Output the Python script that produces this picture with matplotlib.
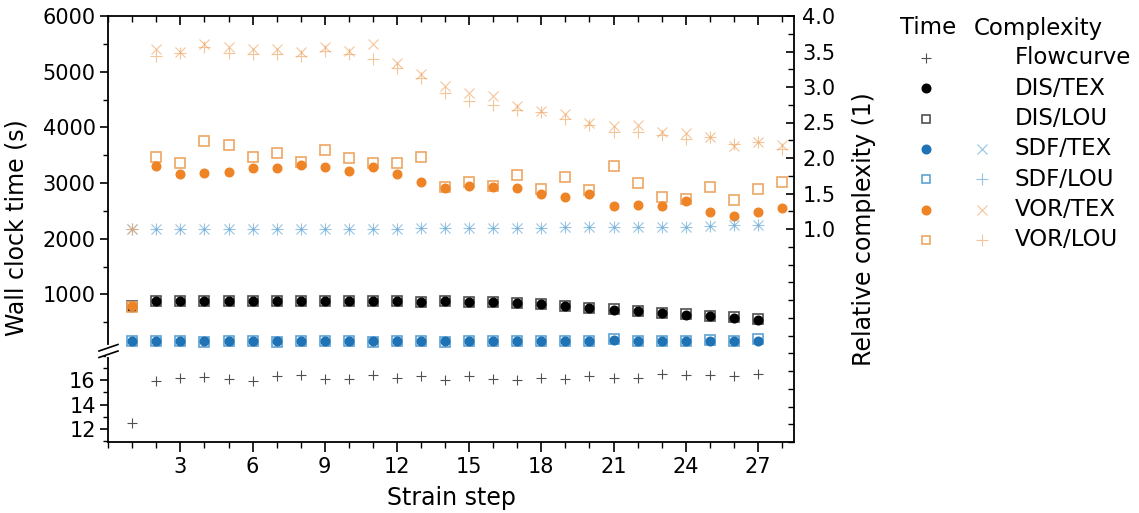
import matplotlib
matplotlib.use("Agg")
import matplotlib.pyplot as plt
from matplotlib.lines import Line2D
from matplotlib.ticker import MultipleLocator, FixedLocator

plt.rcParams['font.family'] = ['DejaVu Sans']

# ---- data ----
steps = list(range(1, 29))        # VOR series go to step 28
steps27 = list(range(1, 28))      # the others stop at 27

flowcurve = [12.5, 15.9, 16.2, 16.25, 16.1, 15.9, 16.3, 16.4, 16.1, 16.05, 16.45, 16.15, 16.3, 16.0,
             16.3, 16.1, 16.0, 16.2, 16.1, 16.35, 16.15, 16.2, 16.5, 16.4, 16.45, 16.3, 16.5]

dis_tex = [780, 880, 880, 880, 880, 885, 880, 880, 882, 885, 880, 880, 862, 874,
           862, 862, 844, 826, 790, 748, 725, 694, 664, 635, 610, 581, 545]
dis_lou = [785, 885, 885, 882, 885, 888, 884, 884, 886, 888, 884, 882, 866, 878,
           866, 866, 848, 830, 795, 752, 730, 698, 668, 640, 614, 586, 550]

sdf_tex = [160, 160, 160, 155, 160, 160, 155, 160, 160, 160, 155, 160, 160, 155,
           160, 160, 160, 160, 160, 160, 180, 160, 160, 160, 165, 160, 170]
sdf_lou = [160, 160, 160, 150, 160, 162, 150, 160, 160, 160, 150, 160, 160, 150,
           160, 160, 160, 160, 160, 160, 195, 160, 165, 165, 175, 165, 190]

vor_tex = [785, 3303, 3165, 3171, 3201, 3267, 3267, 3321, 3279, 3219, 3279, 3159, 3009, 2902,
           2943, 2925, 2913, 2799, 2751, 2799, 2583, 2613, 2583, 2673, 2475, 2403, 2475, 2547]
vor_lou = [780, 3459, 3357, 3758, 3686, 3465, 3543, 3369, 3585, 3447, 3363, 3357, 3465, 2937,
           3021, 2949, 3135, 2889, 3111, 2877, 3309, 2997, 2757, 2715, 2925, 2703, 2895, 3015]

# relative complexity
sdf_tex_c = [1.0, 1.0, 1.0, 1.0, 1.0, 1.0, 1.0, 1.0, 1.0, 1.0, 1.0, 1.0, 1.01, 1.01,
             1.01, 1.01, 1.015, 1.02, 1.025, 1.03, 1.03, 1.03, 1.035, 1.035, 1.04, 1.05, 1.06]
sdf_lou_c = [1.0, 1.0, 1.0, 1.0, 1.0, 1.0, 1.0, 1.0, 1.0, 1.0, 1.0, 1.0, 1.01, 1.01,
             1.01, 1.01, 1.015, 1.02, 1.025, 1.03, 1.03, 1.03, 1.035, 1.035, 1.04, 1.05, 1.06]
vor_tex_c = [1.0, 3.54, 3.50, 3.61, 3.57, 3.53, 3.53, 3.50, 3.57, 3.51, 3.61, 3.34, 3.19, 3.02,
             2.92, 2.87, 2.73, 2.66, 2.62, 2.49, 2.45, 2.46, 2.37, 2.35, 2.29, 2.17, 2.22, 2.18]
vor_lou_c = [1.0, 3.44, 3.48, 3.57, 3.48, 3.47, 3.47, 3.43, 3.51, 3.47, 3.40, 3.27, 3.13, 2.92,
             2.80, 2.74, 2.67, 2.65, 2.55, 2.46, 2.37, 2.37, 2.32, 2.27, 2.30, 2.20, 2.22, 2.13]

# colours
BLACK = '#000000'
GREY = '#505050'
BLUE = '#1f72b4'
BLUE_L = '#5ea3d3'
ORANGE = '#ee8426'
ORANGE_L = '#eea664'
C_ALPHA = 0.65

W, H = 1139, 513
fig = plt.figure(figsize=(W / 100, H / 100), dpi=100)


def fx(px):
    return px / W


def fy(py):
    return 1 - py / H


x0, x1 = 108.2, 794
y_top, y_brk, y_bot = 16, 350, 442

ax_top = fig.add_axes([fx(x0), fy(y_brk), fx(x1) - fx(x0), fy(y_top) - fy(y_brk)])
ax_bot = fig.add_axes([fx(x0), fy(y_bot), fx(x1) - fx(x0), fy(y_brk) - fy(y_bot)])
ax_c = fig.add_axes([fx(x0), fy(y_bot), fx(x1) - fx(x0), fy(y_top) - fy(y_bot)])
ax_c.patch.set_visible(False)

# ---- time, top panel ----
ms_c, ms_s = 6.2, 7.5
ax_top.plot(steps27, dis_lou, 's', mfc='none', mec=GREY, ms=ms_s, mew=1.2)
ax_top.plot(steps27, dis_tex, 'o', color=BLACK, ms=ms_c)
ax_top.plot(steps27, sdf_lou, 's', mfc='none', mec=BLUE_L, ms=ms_s, mew=1.2)
ax_top.plot(steps27, sdf_tex, 'o', color=BLUE, ms=ms_c)
ax_top.plot(steps, vor_lou, 's', mfc='none', mec=ORANGE_L, ms=ms_s, mew=1.2)
ax_top.plot(steps, vor_tex, 'o', color=ORANGE, ms=ms_c)

# ---- flowcurve, bottom panel ----
ax_bot.plot(steps27, flowcurve, '+', color=GREY, ms=7, mew=0.8)

# ---- complexity, right axis ----
ax_c.plot(steps27, sdf_tex_c, 'x', color=BLUE_L, ms=7, mew=0.8, alpha=C_ALPHA)
ax_c.plot(steps27, sdf_lou_c, '+', color=BLUE_L, ms=8, mew=0.8, alpha=C_ALPHA)
ax_c.plot(steps, vor_tex_c, 'x', color=ORANGE_L, ms=7, mew=0.8, alpha=C_ALPHA)
ax_c.plot(steps, vor_lou_c, '+', color=ORANGE_L, ms=8, mew=0.8, alpha=C_ALPHA)

for ax in (ax_top, ax_bot, ax_c):
    ax.set_xlim(0, 28.5)
    for sp in ax.spines.values():
        sp.set_linewidth(1.3)

ax_top.set_ylim(0, 6000)
ax_bot.set_ylim(10.94, 18.45)
ax_c.set_ylim(-2, 4)

# spines
ax_top.spines['bottom'].set_visible(False)
ax_top.spines['right'].set_visible(False)
ax_bot.spines['top'].set_visible(False)
ax_bot.spines['right'].set_visible(False)
for s in ('left', 'top', 'bottom'):
    ax_c.spines[s].set_visible(False)

# x ticks
ax_bot.xaxis.set_major_locator(FixedLocator([3, 6, 9, 12, 15, 18, 21, 24, 27]))
ax_bot.xaxis.set_minor_locator(MultipleLocator(1))
ax_top.xaxis.set_major_locator(FixedLocator([3, 6, 9, 12, 15, 18, 21, 24, 27]))
ax_top.xaxis.set_minor_locator(MultipleLocator(1))
ax_bot.tick_params(axis='x', which='major', direction='out', length=7, width=1.2,
                   labelsize=15, pad=4)
ax_bot.tick_params(axis='x', which='minor', direction='out', length=4, width=1.0)
ax_top.tick_params(axis='x', which='both', direction='in', top=True, bottom=False,
                   labelbottom=False, labeltop=False)
ax_top.tick_params(axis='x', which='major', length=6.5, width=1.2)
ax_top.tick_params(axis='x', which='minor', length=4, width=1.0)
ax_c.tick_params(axis='x', which='both', bottom=False, labelbottom=False)

# y ticks left
ax_top.yaxis.set_major_locator(FixedLocator([1000, 2000, 3000, 4000, 5000, 6000]))
ax_top.yaxis.set_minor_locator(FixedLocator([500 * i for i in range(1, 12)]))
ax_bot.yaxis.set_major_locator(FixedLocator([12, 14, 16]))
ax_bot.yaxis.set_minor_locator(FixedLocator([11, 13, 15, 17, 18]))
for ax in (ax_top, ax_bot):
    ax.tick_params(axis='y', which='major', direction='out', length=6, width=1.2,
                   labelsize=15, pad=3)
    ax.tick_params(axis='y', which='minor', direction='out', length=3.5, width=1.0)

# y ticks right
ax_c.yaxis.tick_right()
ax_c.yaxis.set_label_position('right')
ax_c.yaxis.set_major_locator(FixedLocator([1.0, 1.5, 2.0, 2.5, 3.0, 3.5, 4.0]))
ax_c.yaxis.set_minor_locator(FixedLocator([-2 + 0.25 * i for i in range(24)]))
ax_c.yaxis.set_major_formatter(plt.FormatStrFormatter('%.1f'))
ax_c.tick_params(axis='y', which='major', direction='in', length=6, width=1.2,
                 labelsize=15, pad=6)
ax_c.tick_params(axis='y', which='minor', direction='in', length=4, width=1.0)

ax_top.set_ylabel('Wall clock time (s)', fontsize=17)
ax_top.yaxis.set_label_coords(-0.116, 0.365)
ax_c.set_ylabel('Relative complexity (1)', fontsize=17, labelpad=12)
ax_bot.set_xlabel('Strain step', fontsize=17, labelpad=6)

# axis break marks on the left spine
fig.add_artist(Line2D([fx(x0), fx(x0)], [fy(347), fy(355)], color='white', lw=3))
for yy in (351, 357.5):
    fig.add_artist(Line2D([fx(99), fx(118)], [fy(yy), fy(yy - 6.5)], color='black', lw=1.2))

# ---- legend (manual, two marker columns) ----
fig.text(fx(928), fy(28), 'Time', fontsize=16.5, ha='center', va='center')
fig.text(fx(1038), fy(28), 'Complexity', fontsize=16.5, ha='center', va='center')
leg_rows = [
    ('Flowcurve', dict(marker='+', color=GREY, ms=7, mew=0.8), None),
    ('DIS/TEX', dict(marker='o', color=BLACK, ms=ms_c), None),
    ('DIS/LOU', dict(marker='s', mfc='none', mec=GREY, ms=ms_s * 0.8, mew=1.2), None),
    ('SDF/TEX', dict(marker='o', color=BLUE, ms=ms_c), dict(marker='x', color=BLUE_L, ms=7, mew=0.8)),
    ('SDF/LOU', dict(marker='s', mfc='none', mec=BLUE_L, ms=ms_s * 0.8, mew=1.2), dict(marker='+', color=BLUE_L, ms=8, mew=0.8)),
    ('VOR/TEX', dict(marker='o', color=ORANGE, ms=ms_c), dict(marker='x', color=ORANGE_L, ms=7, mew=0.8)),
    ('VOR/LOU', dict(marker='s', mfc='none', mec=ORANGE_L, ms=ms_s * 0.8, mew=1.2), dict(marker='+', color=ORANGE_L, ms=8, mew=0.8)),
]
for i, (label, tm, cm) in enumerate(leg_rows):
    yy = 58 + 30.3 * i
    fig.add_artist(Line2D([fx(926)], [fy(yy)], linestyle='none', **tm))
    if cm is not None:
        fig.add_artist(Line2D([fx(982)], [fy(yy)], linestyle='none', alpha=C_ALPHA, **cm))
    fig.text(fx(1015), fy(yy), label, fontsize=16.5, ha='left', va='center')

fig.savefig('out.png', dpi=100)
